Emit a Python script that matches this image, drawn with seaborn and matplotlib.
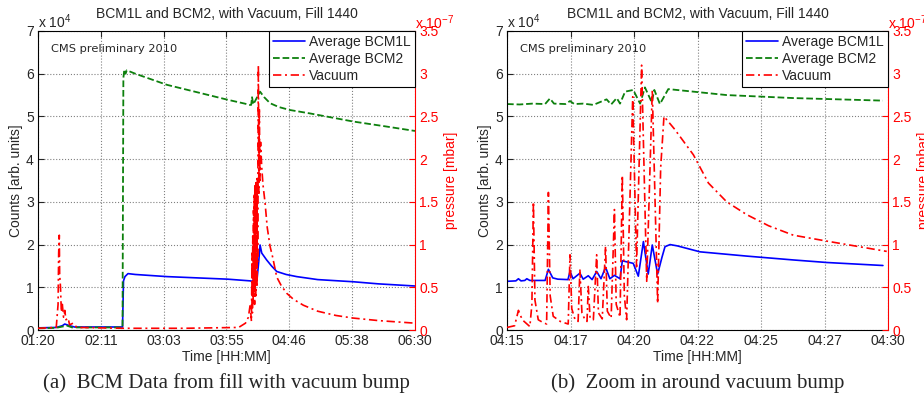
"""
BCM1L / BCM2 sayımları ve vakum basıncı, Fill 1440
"""

import matplotlib
matplotlib.use("Agg")
import matplotlib.pyplot as plt
import seaborn as sns

# --- Sol panel: tüm dolum (dakika, gece yarısından itibaren) ---
bcm1l_full_t = [80, 95, 100, 102, 106, 110, 149.5, 150.3, 151.5, 154, 160, 186, 236, 254.5, 256,
                258, 260, 261.5, 262.6, 264, 268, 272, 276.3, 284, 292.7, 310, 339, 360, 390]
bcm1l_full_v = [0.05, 0.06, 0.1, 0.14, 0.1, 0.07, 0.07, 1.15, 1.25, 1.32, 1.3, 1.25, 1.19, 1.15, 1.14,
                1.2, 1.15, 1.6, 1.99, 1.8, 1.64, 1.5, 1.37, 1.3, 1.25, 1.18, 1.13, 1.08, 1.03]

bcm2_full_t = [80, 95, 100, 104, 108, 149.5, 150.2, 151, 152, 153, 160, 186, 236, 250, 254, 255.3,
               256, 257, 262.6, 266, 270.8, 278, 287.2, 303.7, 339.3, 365, 390]
bcm2_full_v = [0.04, 0.05, 0.08, 0.1, 0.06, 0.06, 5.9, 6.1, 6.0, 6.08, 6.0, 5.74, 5.39, 5.3, 5.27, 5.27,
               5.45, 5.28, 5.58, 5.45, 5.31, 5.22, 5.15, 5.07, 4.88, 4.77, 4.66]

vacuum_full_t = [80, 95, 96.5, 97, 97.5, 97.8, 98.5, 99.2, 100, 101, 102, 103, 104.7, 106, 108.8, 112,
                 150, 200, 245, 250.6, 253, 254.5, 255.5, 256, 256.3, 256.6, 256.9, 257.2, 257.5, 257.8,
                 258.1, 258.3, 258.6, 258.8, 259.1, 259.3, 259.6, 259.8, 260.1, 260.3, 260.6, 260.8,
                 261.2, 261.6, 262, 262.5, 263, 264, 265, 266.7, 268.5, 270.8, 273,
                 276.3, 280, 284.5, 290, 298.2, 310, 325, 339, 360, 390]
vacuum_full_v = [0.02, 0.03, 0.3, 0.9, 1.11, 0.66, 0.5, 0.21, 0.3, 0.15, 0.23, 0.12, 0.14, 0.06, 0.08, 0.03,
                 0.02, 0.02, 0.03, 0.08, 0.15, 0.3, 0.1, 0.9, 0.2, 1.1, 0.3, 1.4, 0.4, 1.6,
                 0.3, 1.7, 0.5, 1.65, 0.4, 1.75, 0.6, 1.7, 0.5, 1.8, 0.8, 1.75,
                 3.1, 1.6, 2.6, 1.75, 2.2, 1.9, 1.7, 1.49, 1.2, 0.98, 0.85,
                 0.62, 0.52, 0.43, 0.36, 0.29, 0.22, 0.17, 0.14, 0.11, 0.08]

full_ticks = [80, 131.67, 183.33, 235, 286.67, 338.33, 390]
full_labels = ["01:20", "02:11", "03:03", "03:55", "04:46", "05:38", "06:30"]

# --- Sağ panel: 04:15'ten itibaren dakika ---
bcm1l_zoom_t = [0, 0.35, 0.45, 0.55, 0.7, 0.78, 0.9, 1.2, 1.5, 1.63, 1.8, 2.0, 2.4, 2.48, 2.6, 2.87, 3.0,
                3.2, 3.35, 3.53, 3.7, 3.88, 4.05, 4.23, 4.45, 4.54, 4.97, 5.17, 5.37, 5.56, 5.72, 5.93,
                6.1, 6.22, 6.42, 6.7, 7.6, 9.44, 11.27, 12.6, 14.8]
bcm1l_zoom_v = [1.14, 1.15, 1.2, 1.15, 1.16, 1.2, 1.16, 1.16, 1.16, 1.42, 1.22, 1.19, 1.18, 1.37, 1.2, 1.33, 1.19,
                1.27, 1.18, 1.37, 1.2, 1.47, 1.2, 1.28, 1.2, 1.62, 1.56, 1.26, 2.07, 1.31, 1.99, 1.31,
                1.7, 1.95, 2.0, 1.97, 1.83, 1.73, 1.64, 1.58, 1.51]

bcm2_zoom_t = [0, 0.5, 1.0, 1.5, 1.69, 1.85, 2.3, 2.48, 2.65, 3.0, 3.4, 3.6, 3.92, 4.1, 4.32, 4.45, 4.65,
               4.97, 5.24, 5.43, 5.7, 5.8, 6.02, 6.35, 7.34, 8.65, 11.27, 14.8]
bcm2_zoom_v = [5.29, 5.28, 5.3, 5.29, 5.42, 5.3, 5.29, 5.36, 5.29, 5.3, 5.27, 5.32, 5.4, 5.28, 5.43, 5.3, 5.58,
               5.62, 5.3, 5.68, 5.33, 5.62, 5.29, 5.64, 5.58, 5.5, 5.43, 5.37]

vacuum_zoom_t = [0, 0.3, 0.45, 0.6, 0.9, 0.98, 1.04, 1.1, 1.23, 1.4, 1.56, 1.63, 1.7, 1.82, 2.1, 2.41, 2.48,
                 2.55, 2.68, 2.8, 2.87, 2.95, 3.07, 3.15, 3.2, 3.27, 3.4, 3.53, 3.6, 3.75, 3.88, 3.95, 4.1,
                 4.23, 4.3, 4.45, 4.54, 4.62, 4.71, 4.95, 5.1, 5.3, 5.5, 5.72, 5.93, 6.05, 6.18, 6.6, 7.34,
                 7.93, 8.65, 9.44, 10.3, 11.27, 12.6, 14.95]
vacuum_zoom_v = [0.03, 0.05, 0.23, 0.12, 0.04, 0.3, 1.5, 0.35, 0.12, 0.09, 0.07, 1.61, 0.4, 0.16, 0.1, 0.07, 0.88,
                 0.25, 0.12, 0.1, 0.71, 0.2, 0.12, 0.1, 0.51, 0.14, 0.12, 0.88, 0.2, 0.13, 0.98, 0.22, 0.14,
                 1.41, 0.3, 0.15, 1.81, 0.4, 0.12, 2.73, 0.74, 3.1, 0.57, 2.81, 0.31, 1.9, 2.5, 2.35, 2.05,
                 1.72, 1.5, 1.35, 1.22, 1.11, 1.04, 0.92]

zoom_ticks = [0, 2.5, 5, 7.5, 10, 12.5, 15]
zoom_labels = ["04:15", "04:17", "04:20", "04:22", "04:25", "04:27", "04:30"]

counts_ticks = [0, 1, 2, 3, 4, 5, 6, 7]
pressure_ticks = [0, 0.5, 1, 1.5, 2, 2.5, 3, 3.5]
pressure_labels = ["0", "0.5", "1", "1.5", "2", "2.5", "3", "3.5"]

title = "BCM1L and BCM2, with Vacuum, Fill 1440"
captions = ["(a)  BCM Data from fill with vacuum bump", "(b)  Zoom in around vacuum bump"]

sns.set_style("white")
plt.rcParams['font.family'] = ['Liberation Sans', 'DejaVu Sans']
plt.rcParams['mathtext.fontset'] = 'custom'
plt.rcParams['mathtext.rm'] = 'Liberation Sans'

BLUE = (0, 0, 1)
GREEN = (0.05, 0.5, 0.05)
RED = (1, 0, 0)
DASHDOT = (0, (5, 2.2, 1.2, 2.2))


def draw_panel(fig, rect, t1, v1, t2, v2, t3, v3, xticks, xlabels, caption):
    ax = fig.add_axes(rect)
    sns.lineplot(x=t1, y=v1, ax=ax, color=BLUE, lw=1.2, estimator=None, sort=False, label="Average BCM1L")
    sns.lineplot(x=t2, y=v2, ax=ax, color=GREEN, lw=1.3, estimator=None, sort=False,
                 linestyle="--", label="Average BCM2")
    ax.set_xlim(xticks[0], xticks[-1])
    ax.set_ylim(0, 7)
    ax.set_xticks(xticks)
    ax.set_xticklabels(xlabels)
    ax.set_yticks(counts_ticks)
    ax.grid(True, linestyle=':', color='0.5', linewidth=0.8)
    ax.tick_params(direction='in', length=4, labelsize=10, top=True, pad=3)
    for s in ['left', 'bottom', 'top']:
        ax.spines[s].set_color('black')
        ax.spines[s].set_linewidth(0.8)
    ax.spines['right'].set_visible(False)
    ax.set_xlabel("Time [HH:MM]", fontsize=10, labelpad=1)
    ax.set_ylabel("Counts [arb. units]", fontsize=10, labelpad=2)
    ax.set_title(title, fontsize=10, pad=9)
    ax.text(0.0, 1.0, "x 10$^4$", transform=ax.transAxes, fontsize=10, ha='left', va='bottom')
    ax.text(0.035, 0.94, "CMS preliminary 2010", transform=ax.transAxes, fontsize=8.2,
            family='DejaVu Sans', ha='left', va='center')
    ax.get_legend().remove()

    ax2 = ax.twinx()
    sns.lineplot(x=t3, y=v3, ax=ax2, color=RED, lw=1.2, estimator=None, sort=False,
                 linestyle=DASHDOT, label="Vacuum")
    ax2.set_ylim(0, 3.5)
    ax2.set_yticks(pressure_ticks)
    ax2.set_yticklabels(pressure_labels)
    ax2.tick_params(axis='y', direction='in', length=4, labelsize=10, colors=RED, pad=3)
    for s in ['left', 'bottom', 'top']:
        ax2.spines[s].set_visible(False)
    ax2.spines['right'].set_color(RED)
    ax2.spines['right'].set_linewidth(0.8)
    ax2.set_ylabel("pressure [mbar]", fontsize=10, color=RED, rotation=90, labelpad=4)
    ax2.text(1.0, 0.995, "x 10$^{-7}$", transform=ax2.transAxes, fontsize=10, color=RED,
             ha='left', va='bottom')

    h1, l1 = ax.get_legend_handles_labels()
    h2, l2 = ax2.get_legend_handles_labels()
    leg = ax2.legend(h1 + h2, l1 + l2, loc='upper right', fontsize=10, fancybox=False, framealpha=1,
                     edgecolor='black', borderaxespad=0.0, handlelength=2.3, labelspacing=0.2,
                     handletextpad=0.3, borderpad=0.3)
    leg.get_frame().set_linewidth(0.8)

    fig.text(rect[0] + rect[2] / 2, 0.05, caption, ha='center', va='center', fontsize=15,
             family='Liberation Serif')


fig = plt.figure(figsize=(9.24, 4.03), dpi=100)
draw_panel(fig, [38 / 924, 73 / 403, 377 / 924, 299 / 403],
           bcm1l_full_t, bcm1l_full_v, bcm2_full_t, bcm2_full_v, vacuum_full_t, vacuum_full_v,
           full_ticks, full_labels, captions[0])
draw_panel(fig, [507 / 924, 73 / 403, 381 / 924, 299 / 403],
           bcm1l_zoom_t, bcm1l_zoom_v, bcm2_zoom_t, bcm2_zoom_v, vacuum_zoom_t, vacuum_zoom_v,
           zoom_ticks, zoom_labels, captions[1])

fig.savefig("out.png", dpi=100)
